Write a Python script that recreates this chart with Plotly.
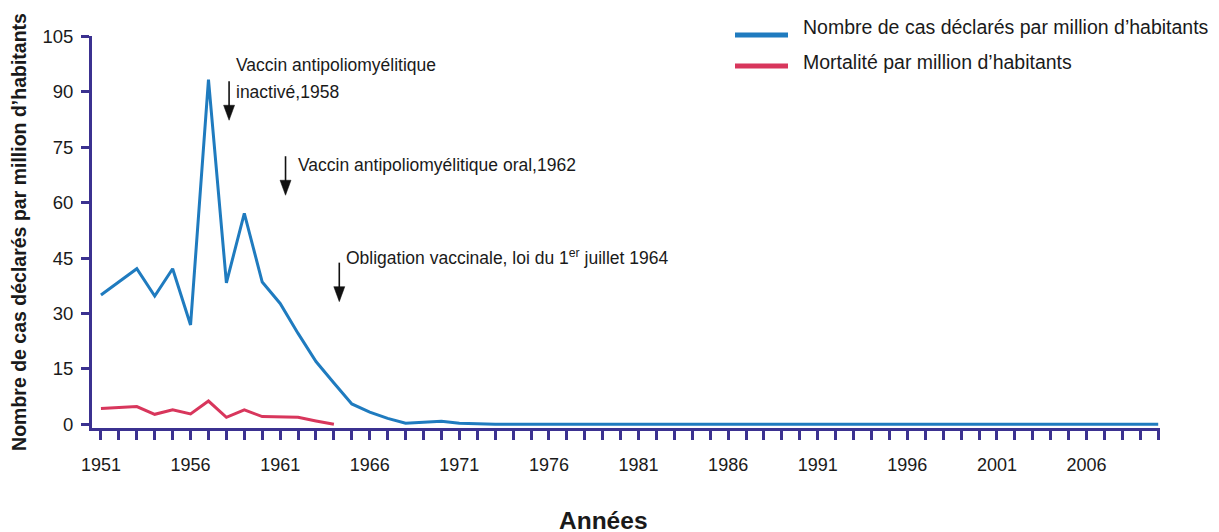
import plotly.graph_objects as go

# ---------------- data ----------------
years_cases = list(range(1951, 2011))
cases_per_million = [
    35.0, 38.6, 42.1, 34.7, 42.1, 26.9, 93.3, 38.3, 57.1, 38.5,   # 1951-1960
    32.7, 24.6, 17.0, 11.2, 5.5, 3.3, 1.6, 0.3, 0.5, 0.8,         # 1961-1970
    0.3, 0.1, 0.0, 0.0, 0.0, 0.0, 0.0, 0.0, 0.0, 0.0,             # 1971-1980
    0.0, 0.0, 0.0, 0.0, 0.0, 0.0, 0.0, 0.0, 0.0, 0.0,             # 1981-1990
    0.0, 0.0, 0.0, 0.0, 0.0, 0.0, 0.0, 0.0, 0.0, 0.0,             # 1991-2000
    0.0, 0.0, 0.0, 0.0, 0.0, 0.0, 0.0, 0.0, 0.0, 0.0,             # 2001-2010
]
years_deaths = list(range(1951, 1965))
deaths_per_million = [4.3, 4.5, 4.8, 2.7, 3.9, 2.8, 6.3, 1.9, 3.9, 2.1,
                      1.9, 1.9, 0.9, 0.0]

series_names = ["Nombre de cas déclarés par million d’habitants",
                "Mortalité par million d’habitants"]
y_ticks = [0, 15, 30, 45, 60, 75, 90, 105]
x_ticks = [1951, 1956, 1961, 1966, 1971, 1976, 1981, 1986, 1991, 1996, 2001, 2006]

# event arrows: (x year, value at arrow tip)
event_x = [1958.15, 1961.3, 1964.3]
event_tip = [82.3, 62.0, 33.2]
# event labels: (x year of left edge, value at text middle, text)
label_x = [1958.45, 1958.45, 1961.9, 1964.55]
label_y = [97.2, 89.9, 70.1, 45.3]
label_text = ["Vaccin antipoliomyélitique",
              "inactivé,1958",
              "Vaccin antipoliomyélitique oral,1962",
              "Obligation vaccinale, loi du 1<sup>er</sup> juillet 1964"]

# ---------------- style ----------------
BLUE = "#1f7bbf"
RED = "#d8365c"
AXIS = "#3b3190"
TXT = "#1a1a1a"
FONT = "Liberation Sans"

W, H = 1219, 532
OFF = 8  # page body margin
# desired plot-area edges in window pixels
PL, PR, PT, PB = 92, 1160, 36, 428
ML, MR, MT, MB = PL - OFF, W + OFF - PR, PT - OFF, H + OFF - PB
XR = [1950.5, 2010.1]
YR = [-1, 105.1]
px_per_year = (PR - PL) / (XR[1] - XR[0])
px_per_unit = (PB - PT) / (YR[1] - YR[0])

fig = go.Figure()
fig.add_trace(go.Scatter(x=years_cases, y=cases_per_million, mode="lines",
                         name=series_names[0],
                         line=dict(color=BLUE, width=3), showlegend=False))
fig.add_trace(go.Scatter(x=years_deaths, y=deaths_per_million, mode="lines",
                         name=series_names[1],
                         line=dict(color=RED, width=3), showlegend=False))

annotations = []
shapes = []

# arrows as shapes (stem + filled head)
stem_px, head_px, half_w_px = 39, 15, 5.5
for x, y in zip(event_x, event_tip):
    hh = head_px / px_per_unit
    hw = half_w_px / px_per_year
    st = stem_px / px_per_unit
    shapes.append(dict(type="line", xref="x", yref="y", x0=x, x1=x,
                       y0=y + hh * 0.6, y1=y + st,
                       line=dict(color="#111111", width=1.6)))
    shapes.append(dict(type="path", xref="x", yref="y",
                       path=f"M {x - hw},{y + hh} L {x + hw},{y + hh} L {x},{y} Z",
                       fillcolor="#111111", line=dict(color="#111111", width=0.5)))

for x, y, t in zip(label_x, label_y, label_text):
    annotations.append(dict(x=x, y=y, xref="x", yref="y", text=t, showarrow=False,
                            xanchor="left", yanchor="middle",
                            font=dict(family=FONT, size=17.5, color=TXT)))

# legend drawn manually (window pixel -> paper)
def px_x(p):
    return (p - PL) / (PR - PL)

def px_y(p):
    return 1 - (p - PT) / (PB - PT)

for i, (col, ys, yt) in enumerate([(BLUE, 35, 27), (RED, 66, 62)]):
    shapes.append(dict(type="line", xref="paper", yref="paper",
                       x0=px_x(735), x1=px_x(788), y0=px_y(ys), y1=px_y(ys),
                       line=dict(color=col, width=5)))
    annotations.append(dict(x=px_x(801), y=px_y(yt), xref="paper", yref="paper",
                            text=series_names[i], showarrow=False,
                            xanchor="left", yanchor="middle",
                            font=dict(family=FONT, size=19.5, color=TXT)))

# x axis title
annotations.append(dict(x=px_x(603), y=px_y(520), xref="paper", yref="paper",
                        text="<b>Années</b>", showarrow=False,
                        xanchor="center", yanchor="middle",
                        font=dict(family=FONT, size=24.5, color=TXT)))

fig.update_layout(
    width=W, height=H,
    margin=dict(l=ML, r=MR, t=MT, b=MB, pad=0),
    paper_bgcolor="white", plot_bgcolor="white",
    font=dict(family=FONT, color=TXT),
    annotations=annotations, shapes=shapes,
    showlegend=False,
)
fig.update_xaxes(
    range=XR, showgrid=False, zeroline=False,
    showline=True, linecolor=AXIS, linewidth=3,
    tickmode="array", tickvals=x_ticks, ticktext=[str(v) for v in x_ticks],
    ticks="outside", ticklen=9, tickwidth=3, tickcolor=AXIS,
    minor=dict(dtick=1, tick0=1951, ticks="outside", ticklen=9, tickwidth=3,
               tickcolor=AXIS, showgrid=False),
    tickfont=dict(family=FONT, size=18, color=TXT),
    ticklabelstandoff=9,
)
fig.update_yaxes(
    range=YR, showgrid=False, zeroline=False,
    showline=True, linecolor=AXIS, linewidth=3,
    tickmode="array", tickvals=y_ticks, ticktext=[str(v) for v in y_ticks],
    ticks="outside", ticklen=8, tickwidth=3, tickcolor=AXIS,
    tickfont=dict(family=FONT, size=18.5, color=TXT),
    ticklabelstandoff=4,
    title=dict(text="<b>Nombre de cas déclarés par million d’habitants</b>",
               font=dict(family=FONT, size=19.5, color=TXT), standoff=14),
    automargin=False,
)

fig.write_html("out.html")
